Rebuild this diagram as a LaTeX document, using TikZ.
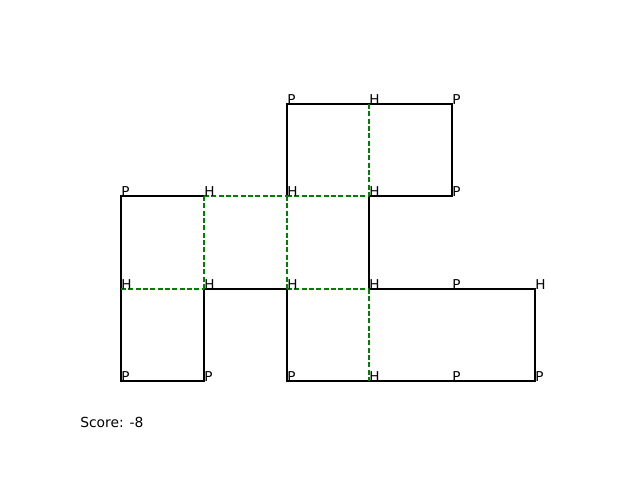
\documentclass[tikz,border=0pt]{standalone}
\usepackage{fontspec}
\setmainfont{DejaVu Sans}
\usetikzlibrary{positioning}

\begin{document}
\begin{tikzpicture}[x=0.75pt, y=-0.75pt,
        chain/.style={draw=black, line width=1.5pt, line join=miter},
        contact/.style={draw=green!50!black, line width=0.8pt,
                        dash pattern=on 3.85pt off 1.65pt},
        res/.style={font=\fontsize{10.2}{12}\selectfont, anchor=base west,
                    inner sep=0pt, text=black},
        score/.style={font=\fontsize{10.4}{12}\selectfont, anchor=base west,
                      inner sep=0pt}
    ]
    \useasboundingbox (0, 0) rectangle (640, 480);

    % lattice points
    \coordinate (c00) at (121, 381);
    \coordinate (c10) at (204, 381);
    \coordinate (c20) at (287, 381);
    \coordinate (c30) at (369, 381);
    \coordinate (c40) at (452, 381);
    \coordinate (c50) at (535, 381);
    \coordinate (c01) at (121, 289);
    \coordinate (c11) at (204, 289);
    \coordinate (c21) at (287, 289);
    \coordinate (c31) at (369, 289);
    \coordinate (c41) at (452, 289);
    \coordinate (c51) at (535, 289);
    \coordinate (c02) at (121, 196);
    \coordinate (c12) at (204, 196);
    \coordinate (c22) at (287, 196);
    \coordinate (c32) at (369, 196);
    \coordinate (c42) at (452, 196);
    \coordinate (c23) at (287, 104);
    \coordinate (c33) at (369, 104);
    \coordinate (c43) at (452, 104);

    % fold
    \draw[chain] (c12) -- (c02) -- (c01) -- (c00) -- (c10) -- (c11)
        -- (c21) -- (c20) -- (c30) -- (c40) -- (c50) -- (c51) -- (c41)
        -- (c31) -- (c32) -- (c42) -- (c43) -- (c33) -- (c23) -- (c22);

    % H-H contacts
    \draw[contact] (c12) -- (c22);
    \draw[contact] (c22) -- (c32);
    \draw[contact] (c12) -- (c11);
    \draw[contact] (c22) -- (c21);
    \draw[contact] (c33) -- (c32);
    \draw[contact] (c31) -- (c30);
    \draw[contact] (c01) -- (c11);
    \draw[contact] (c21) -- (c31);

    % residues
    \node[res] (r12) at (c12) {H};
    \node[res] (r02) at (c02) {P};
    \node[res] (r01) at (c01) {H};
    \node[res] (r00) at (c00) {P};
    \node[res] (r10) at (c10) {P};
    \node[res] (r11) at (c11) {H};
    \node[res] (r21) at (c21) {H};
    \node[res] (r20) at (c20) {P};
    \node[res] (r30) at (c30) {H};
    \node[res] (r40) at (c40) {P};
    \node[res] (r50) at (c50) {P};
    \node[res] (r51) at (c51) {H};
    \node[res] (r41) at (c41) {P};
    \node[res] (r31) at (c31) {H};
    \node[res] (r32) at (c32) {H};
    \node[res] (r42) at (c42) {P};
    \node[res] (r43) at (c43) {P};
    \node[res] (r33) at (c33) {H};
    \node[res] (r23) at (c23) {P};
    \node[res] (r22) at (c22) {H};

    \node[score] (total) at (80, 427.5) {Score: -8};
\end{tikzpicture}
\end{document}
